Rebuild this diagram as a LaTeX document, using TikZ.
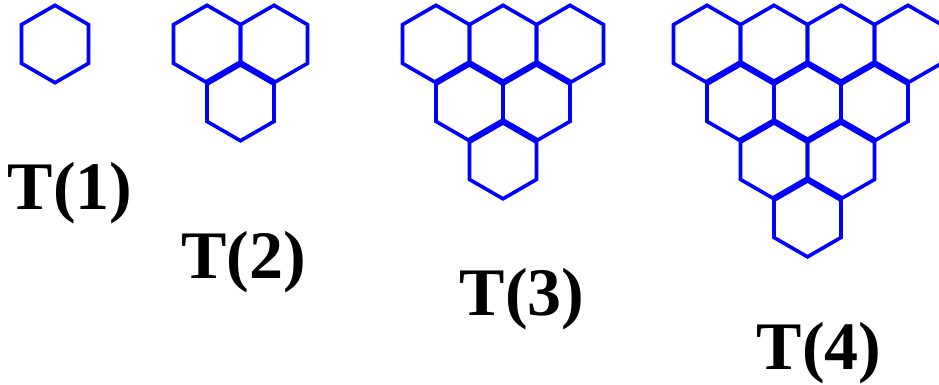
\documentclass[tikz,border=0pt]{standalone}
\usepackage{fontspec}
\setmainfont{Liberation Serif}
\tikzset{
  hexline/.style={draw=blue, line width=3.6pt},
  hexthick/.style={draw=blue, line width=6.2pt},
  tlabel/.style={inner sep=0pt, anchor=base, font=\bfseries\fontsize{68}{68}\selectfont}
}
\newcommand\hexcell[2]{%
  \draw[hexline] (#1,#2) +(0,-38.7) -- +(33.51,-19.35) -- +(33.51,19.35) -- +(0,38.7) -- +(-33.51,19.35) -- +(-33.51,-19.35) -- cycle;}
\newcommand\hextop[2]{%
  \draw[hexthick] (#1,#2) +(-33.51,-19.35) -- +(0,-38.7) -- +(33.51,-19.35);}
\begin{document}
\begin{tikzpicture}[x=1pt,y=-1pt]
\useasboundingbox (0,0) rectangle (939,385);
\clip (0,0) rectangle (939,385);
% T(1)
\hexcell{55}{44}
% T(2)
\foreach \cx in {207,274} {\hexcell{\cx}{44}}
\hexcell{240.5}{102.05}
\hextop{240.5}{102.05}
% T(3)
\foreach \cx in {436,503,570} {\hexcell{\cx}{44}}
\foreach \cx in {469.5,536.5} {\hexcell{\cx}{102.05}}
\hexcell{503}{160.1}
\foreach \cx in {469.5,536.5} {\hextop{\cx}{102.05}}
\hextop{503}{160.1}
% T(4)
\foreach \cx in {707,774,841,908} {\hexcell{\cx}{44}}
\foreach \cx in {740.5,807.5,874.5} {\hexcell{\cx}{102.05}}
\foreach \cx in {774,841} {\hexcell{\cx}{160.1}}
\hexcell{807.5}{218.15}
\foreach \cx in {740.5,807.5,874.5} {\hextop{\cx}{102.05}}
\foreach \cx in {774,841} {\hextop{\cx}{160.1}}
\hextop{807.5}{218.15}
% labels
\node[tlabel] (t1) at (70,209) {T(1)};
\node[tlabel] (t2) at (243.5,278) {T(2)};
\node[tlabel] (t3) at (522,315) {T(3)};
\node[tlabel] (t4) at (819,369) {T(4)};
\end{tikzpicture}
\end{document}
